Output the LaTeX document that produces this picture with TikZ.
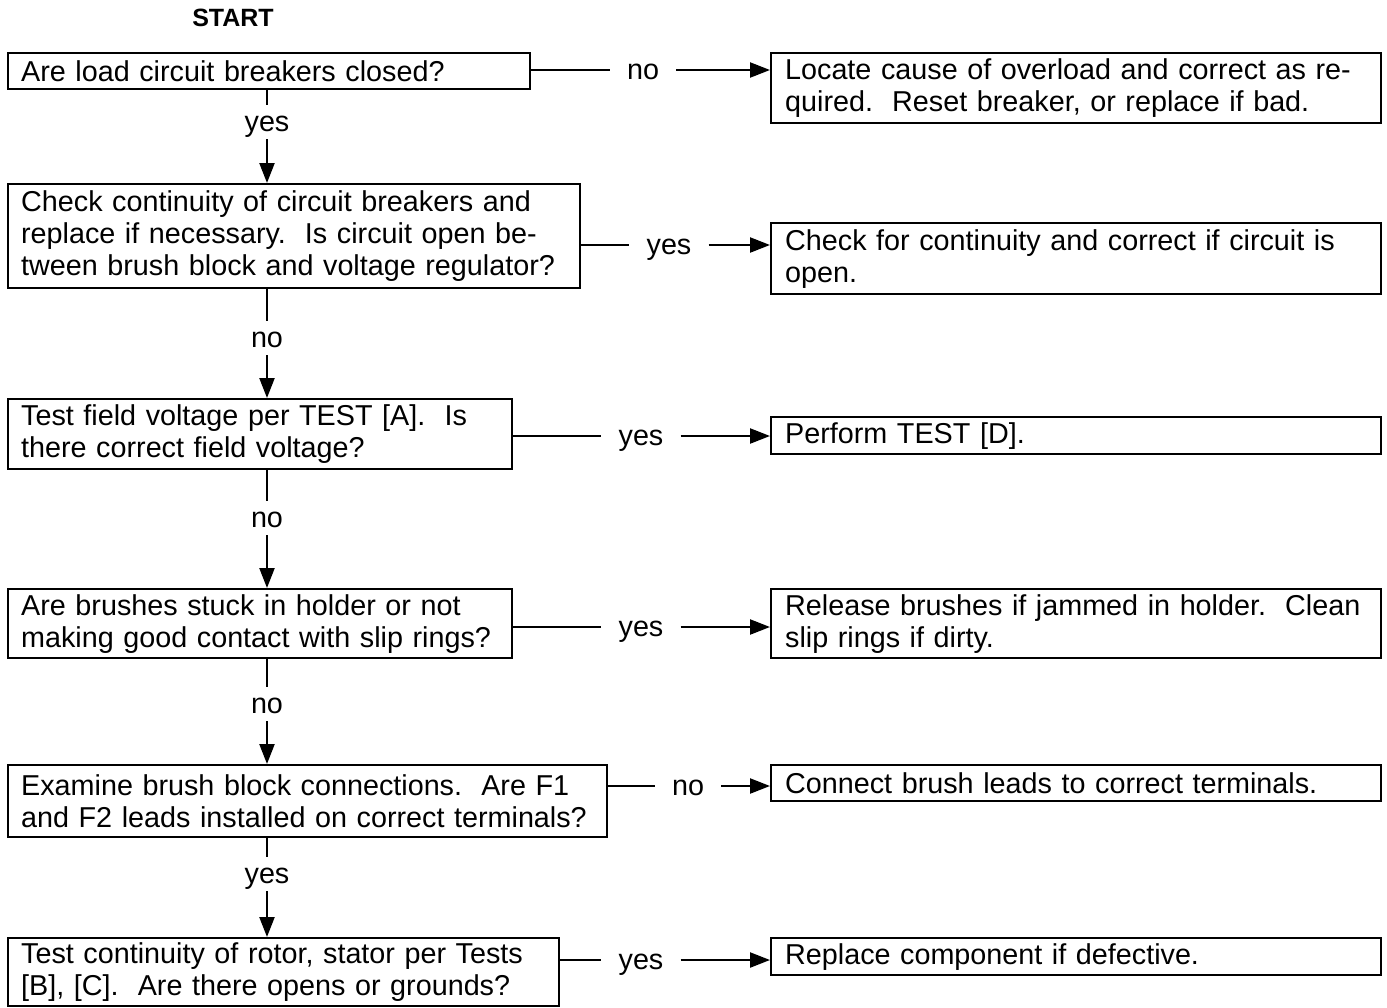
\documentclass[tikz,border=0pt]{standalone}
\usepackage{fontspec}
\setmainfont{Liberation Sans}
\usetikzlibrary{arrows.meta}
\newcommand\bodyfont{\fontsize{28.75pt}{32pt}\selectfont}
\begin{document}
\begin{tikzpicture}[x=1pt,y=-1pt,
 box/.style={draw, line width=2.3pt, inner xsep=13pt, inner ysep=0pt, anchor=north west, align=left, font=\bodyfont},
 rbox/.style={box, inner xsep=14pt, text width=582pt},
 lab/.style={inner xsep=17pt, inner ysep=0pt, minimum height=34pt, text height=18pt, text depth=0pt, font=\bodyfont},
 ln/.style={line width=2.3pt},
 arr/.style={line width=2.3pt, -{Triangle[length=20pt,width=15pt]}}]
\useasboundingbox (0,0) rectangle (1387,1007);
\node[font=\fontsize{25pt}{30pt}\selectfont\bfseries] (start) at (233,18) {START};
% left column
\node[box, text width=496pt, minimum height=36pt] (b1) at (7,52) {Are load circuit breakers closed?};
\node[box, text width=546pt, minimum height=104pt] (b2) at (7,183) {Check continuity of circuit breakers and\\replace if necessary.\ \ Is circuit open be-\\tween brush block and voltage regulator?};
\node[box, text width=478pt, minimum height=70pt] (b3) at (7,398) {Test field voltage per TEST [A].\ \ Is\\there correct field voltage?};
\node[box, text width=478pt, minimum height=69pt] (b4) at (7,588) {Are brushes stuck in holder or not\\making good contact with slip rings?};
\node[box, text width=573pt, minimum height=72pt] (b5) at (7,764) {Examine brush block connections.\ \ Are F1\\and F2 leads installed on correct terminals?};
\node[box, text width=525pt, minimum height=68pt] (b6) at (7,937) {Test continuity of rotor, stator per Tests\\{[B]}, [C].\ \ Are there opens or grounds?};
% right column
\node[rbox, minimum height=70pt] (r1) at (770,52) {Locate cause of overload and correct as re-\\quired.\ \ Reset breaker, or replace if bad.};
\node[rbox, minimum height=71pt] (r2) at (770,222) {Check for continuity and correct if circuit is\\open.};
\node[rbox, minimum height=37pt] (r3) at (770,416) {Perform TEST [D].};
\node[rbox, minimum height=69pt] (r4) at (770,588) {Release brushes if jammed in holder.\ \ Clean\\slip rings if dirty.};
\node[rbox, minimum height=36pt] (r5) at (770,764) {Connect brush leads to correct terminals.};
\node[rbox, minimum height=37pt] (r6) at (770,937) {Replace component if defective.};
% horizontal labels
\node[lab] (h1) at (643,70) {no};
\node[lab] (h2) at (669,245) {yes};
\node[lab] (h3) at (641,436) {yes};
\node[lab] (h4) at (641,627) {yes};
\node[lab] (h5) at (688,786) {no};
\node[lab] (h6) at (641,960) {yes};
\foreach \i in {1,...,6}{
  \draw[ln] (b\i.east |- h\i) -- (h\i.west);
  \draw[arr] (h\i.east) -- (r\i.west |- h\i);
}
% vertical labels
\node[lab] (v1) at (267,122) {yes};
\node[lab] (v2) at (267,338) {no};
\node[lab] (v3) at (267,518) {no};
\node[lab] (v4) at (267,704) {no};
\node[lab] (v5) at (267,874) {yes};
\draw[ln] (v1 |- b1.south) -- (v1.north); \draw[arr] (v1.south) -- (v1 |- b2.north);
\draw[ln] (v2 |- b2.south) -- (v2.north); \draw[arr] (v2.south) -- (v2 |- b3.north);
\draw[ln] (v3 |- b3.south) -- (v3.north); \draw[arr] (v3.south) -- (v3 |- b4.north);
\draw[ln] (v4 |- b4.south) -- (v4.north); \draw[arr] (v4.south) -- (v4 |- b5.north);
\draw[ln] (v5 |- b5.south) -- (v5.north); \draw[arr] (v5.south) -- (v5 |- b6.north);
\end{tikzpicture}
\end{document}
